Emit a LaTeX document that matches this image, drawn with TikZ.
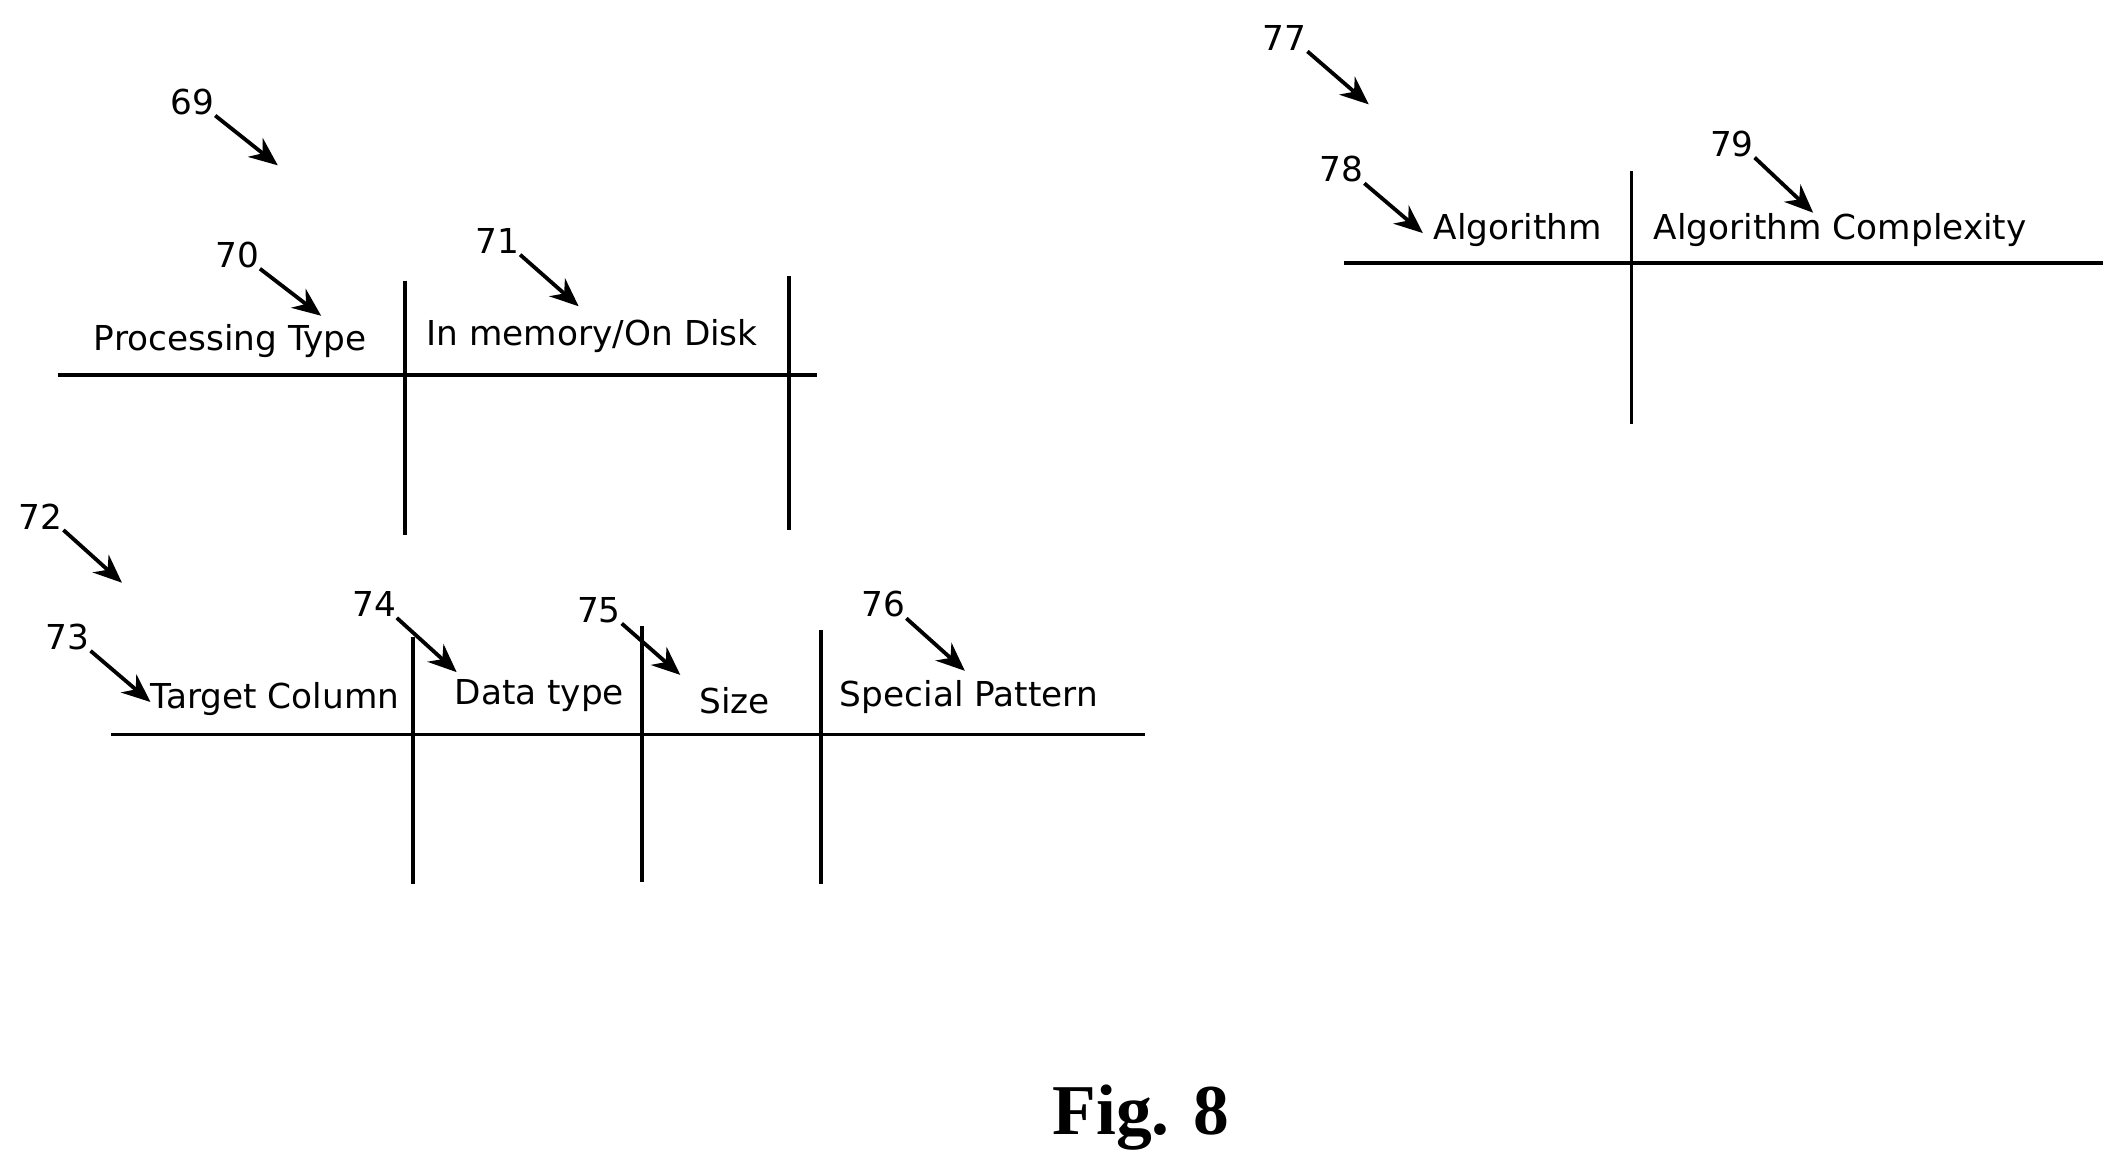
\documentclass[tikz,border=0pt]{standalone}
\usepackage{fontspec}
\setmainfont{DejaVu Sans}
\newfontfamily\figfont{Liberation Serif}
\usetikzlibrary{arrows.meta}
\tikzset{
  rule/.style={line width=0.8pt},
  lbl/.style={inner sep=0pt, font=\fontsize{7.2}{8}\selectfont},
  num/.style={inner sep=0pt, font=\fontsize{7.2}{8}\selectfont},
  callout/.style={line width=0.8pt, -{Stealth[length=6pt,width=5pt]}}
}
\begin{document}
\begin{tikzpicture}[x=0.01cm,y=-0.01cm]
\useasboundingbox (0,0) rectangle (1560,860);
% first table
\coordinate (h1a) at (43,277); \coordinate (h1b) at (603,277);
\draw [rule] (h1a) -- (h1b);
\draw [rule] (299,207) -- (299,395);
\draw [rule] (582,204) -- (582,391);
\node [lbl] (proc) at (170,252) {Processing Type};
\node [lbl] (mem) at (437,248) {In memory/On Disk};
\node [num] (n69) at (142,75) {69};
\coordinate (t69) at (205,122);
\draw [callout] (n69.south east) -- (t69);
\node [num] (n70) at (175,188) {70};
\coordinate (t70) at (237,233);
\draw [callout] (n70.south east) -- (t70);
\node [num] (n71) at (367,178) {71};
\coordinate (t71) at (427,226);
\draw [callout] (n71.south east) -- (t71);
% second table
\draw [rule] (82,542) -- (845,542);
\draw [rule] (305,470) -- (305,652);
\draw [rule] (474,462) -- (474,651);
\draw [rule] (606,465) -- (606,652);
\node [lbl] (target) at (203,516) {Target Column};
\node [lbl] (dtype) at (398,513) {Data type};
\node [lbl] (size) at (542,517) {Size};
\node [lbl] (pattern) at (715,514) {Special Pattern};
\node [num] (n72) at (30,381) {72};
\coordinate (t72) at (90,430);
\draw [callout] (n72.south east) -- (t72);
\node [num] (n73) at (50,470) {73};
\coordinate (t73) at (111,518);
\draw [callout] (n73.south east) -- (t73);
\node [num] (n74) at (276,446) {74};
\coordinate (t74) at (337,496);
\draw [callout] (n74.south east) -- (t74);
\node [num] (n75) at (442,450) {75};
\coordinate (t75) at (502,498);
\draw [callout] (n75.south east) -- (t75);
\node [num] (n76) at (652,446) {76};
\coordinate (t76) at (712,495);
\draw [callout] (n76.south east) -- (t76);
% third table
\draw [rule] (992,194) -- (1552,194);
\draw [rule] (1204,126) -- (1204,313);
\node [lbl] (algo) at (1120,170) {Algorithm};
\node [lbl] (cplx) at (1358,170) {Algorithm Complexity};
\node [num] (n77) at (948,28) {77};
\coordinate (t77) at (1010,77);
\draw [callout] (n77.south east) -- (t77);
\node [num] (n78) at (990,125) {78};
\coordinate (t78) at (1050,172);
\draw [callout] (n78.south east) -- (t78);
\node [num] (n79) at (1278,106) {79};
\coordinate (t79) at (1338,157);
\draw [callout] (n79.south east) -- (t79);
\node [inner sep=0pt, font=\figfont\bfseries\fontsize{15}{17}\selectfont] (fig) at (842,825) {Fig. 8};
\end{tikzpicture}
\end{document}
